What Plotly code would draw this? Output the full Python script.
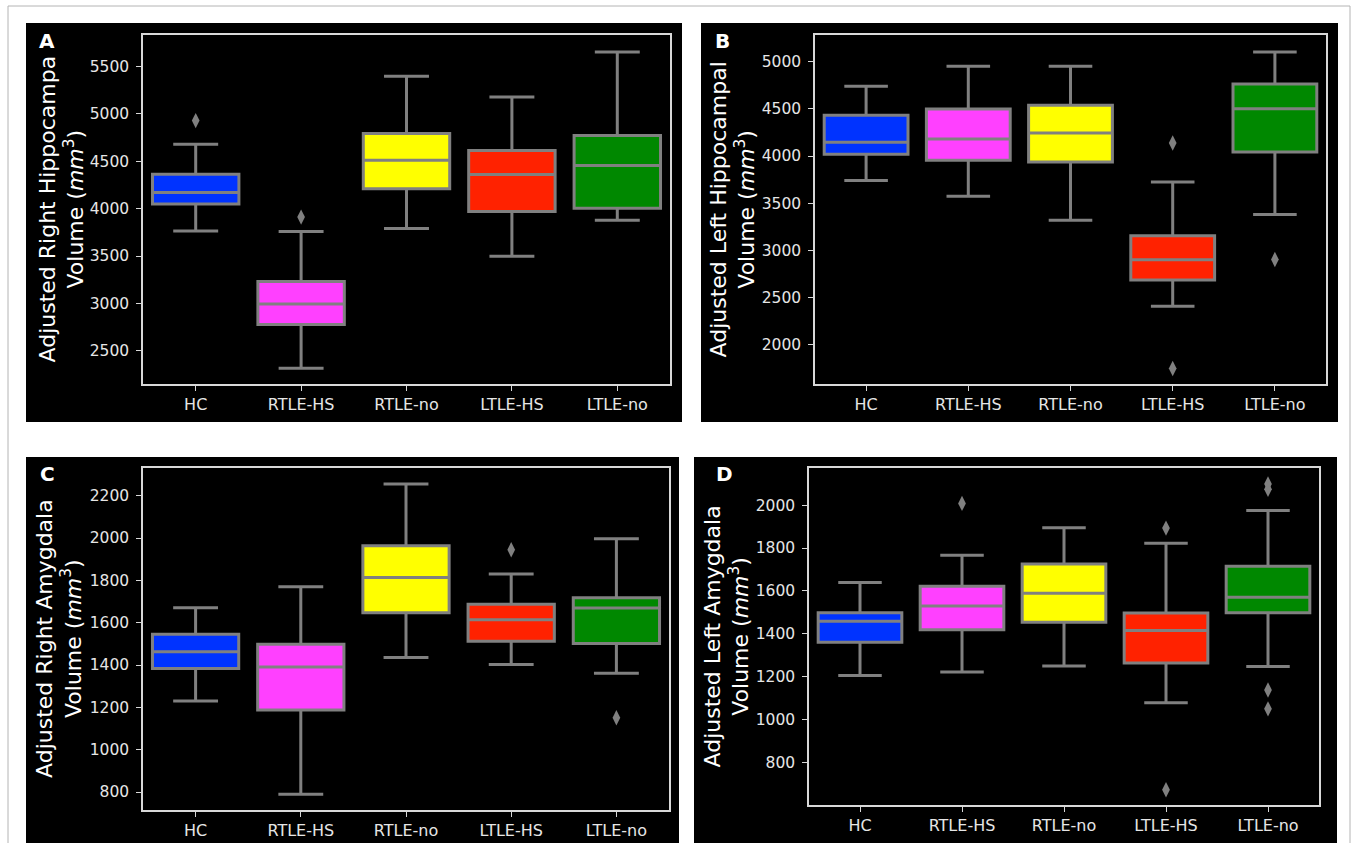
import plotly.graph_objects as go

W, H = 1354, 843

categories = ["HC", "RTLE-HS", "RTLE-no", "LTLE-HS", "LTLE-no"]
box_colors = ["#0033ff", "#ff40ff", "#ffff00", "#ff2200", "#008800"]

# Panel A: Adjusted Right Hippocampal volume
a_lower = [3765, 2314, 3791, 3499, 3879]
a_q1 = [4050, 2778, 4210, 3970, 4006]
a_median = [4170, 2993, 4512, 4361, 4456]
a_q3 = [4365, 3232, 4793, 4614, 4772]
a_upper = [4681, 3760, 5398, 5180, 5655]
a_outliers = {"HC": [4930], "RTLE-HS": [3911]}

# Panel B: Adjusted Left Hippocampal volume
b_lower = [3740, 3574, 3320, 2409, 3380]
b_q1 = [4019, 3955, 3938, 2685, 4044]
b_median = [4146, 4181, 4245, 2900, 4502]
b_q3 = [4432, 4499, 4538, 3154, 4764]
b_upper = [4739, 4951, 4951, 3726, 5102]
b_outliers = {"LTLE-HS": [4139, 1749], "LTLE-no": [2904]}

# Panel C: Adjusted Right Amygdala volume
c_lower = [1230, 789, 1436, 1403, 1361]
c_q1 = [1384, 1187, 1647, 1512, 1502]
c_median = [1463, 1391, 1814, 1614, 1669]
c_q3 = [1546, 1498, 1964, 1687, 1718]
c_upper = [1671, 1770, 2255, 1830, 1997]
c_outliers = {"LTLE-HS": [1945], "LTLE-no": [1151]}

# Panel D: Adjusted Left Amygdala volume
d_lower = [1206, 1223, 1251, 1079, 1248]
d_q1 = [1361, 1420, 1454, 1264, 1499]
d_median = [1459, 1530, 1589, 1416, 1571]
d_q3 = [1499, 1622, 1726, 1498, 1715]
d_upper = [1640, 1766, 1895, 1823, 1975]
d_outliers = {"RTLE-HS": [2008], "LTLE-HS": [1893, 674],
              "LTLE-no": [2099, 2074, 1139, 1051]}

panel_labels = ["A", "B", "C", "D"]
y_titles = [
    "Adjusted Right Hippocampa<br>Volume (<i>mm</i><sup>3</sup>)",
    "Adjusted Left Hippocampal<br>Volume (<i>mm</i><sup>3</sup>)",
    "Adjusted Right Amygdala<br>Volume (<i>mm</i><sup>3</sup>)",
    "Adjusted Left Amygdala<br>Volume (<i>mm</i><sup>3</sup>)",
]
y_ranges = [[2149, 5834], [1584, 5283], [715, 2331], [603, 2173]]
y_ticks = [
    [2500, 3000, 3500, 4000, 4500, 5000, 5500],
    [2000, 2500, 3000, 3500, 4000, 4500, 5000],
    [800, 1000, 1200, 1400, 1600, 1800, 2000, 2200],
    [800, 1000, 1200, 1400, 1600, 1800, 2000],
]

panels = [
    (a_lower, a_q1, a_median, a_q3, a_upper, a_outliers),
    (b_lower, b_q1, b_median, b_q3, b_upper, b_outliers),
    (c_lower, c_q1, c_median, c_q3, c_upper, c_outliers),
    (d_lower, d_q1, d_median, d_q3, d_upper, d_outliers),
]

# pixel geometry (layout only)
frames = [(143, 670, 35, 384), (815, 1326, 35, 384),
          (143, 669, 468, 810), (809, 1319, 468, 805)]
blacks = [(26, 682, 23, 422), (701, 1338, 23, 422),
          (26, 679, 457, 850), (694, 1337, 457, 850)]
label_pos = [(47, 41), (722, 41), (47, 474), (724, 474)]
title_x = [61, 732, 59, 726]

def px(x):
    return x / W

def py(y):
    return 1 - y / H

fig = go.Figure()
GRAY = "#808080"
XTICKFONT = dict(size=16, color="#e6e6e6", family="DejaVu Sans")
YTICKFONT = dict(size=15.5, color="#e6e6e6", family="DejaVu Sans")

for i, (lo, q1, med, q3, up, outl) in enumerate(panels):
    xa = "x" if i == 0 else f"x{i+1}"
    ya = "y" if i == 0 else f"y{i+1}"
    for j, cat in enumerate(categories):
        fig.add_trace(go.Box(
            x=[cat], q1=[q1[j]], median=[med[j]], q3=[q3[j]],
            lowerfence=[lo[j]], upperfence=[up[j]],
            fillcolor=box_colors[j], line=dict(color=GRAY, width=3),
            width=0.82, whiskerwidth=0.52, boxpoints=False,
            showlegend=False, hoverinfo="skip", xaxis=xa, yaxis=ya))
    ox, oy = [], []
    for cat in categories:
        for v in outl.get(cat, []):
            ox.append(cat)
            oy.append(v)
    fig.add_trace(go.Scatter(
        x=ox, y=oy, mode="markers",
        marker=dict(symbol="diamond-tall", size=11, color=GRAY,
                    line=dict(width=0)),
        showlegend=False, hoverinfo="skip", xaxis=xa, yaxis=ya))

layout = dict(
    width=W, height=H, margin=dict(l=0, r=0, t=0, b=0),
    paper_bgcolor="white", plot_bgcolor="black", boxmode="overlay",
    font=dict(family="DejaVu Sans", color="#e6e6e6"),
)
shapes = []
annotations = []
for i in range(4):
    x0, x1, y0, y1 = frames[i]
    sfx = "" if i == 0 else str(i + 1)
    layout["xaxis" + sfx] = dict(
        domain=[px(x0), px(x1)], anchor="y" + sfx, type="category",
        categoryorder="array", categoryarray=categories,
        range=[-0.5, 4.5], showgrid=False, zeroline=False,
        showline=True, mirror=True, linecolor="#d8d8d8", linewidth=1.5,
        ticks="outside", ticklen=5, tickwidth=1.2, tickcolor="#d8d8d8",
        tickfont=XTICKFONT)
    layout["yaxis" + sfx] = dict(
        domain=[py(y1), py(y0)], anchor="x" + sfx,
        range=y_ranges[i], tickvals=y_ticks[i], showgrid=False,
        zeroline=False, showline=True, mirror=True, linecolor="#d8d8d8",
        linewidth=1.5, ticks="outside", ticklen=5, tickwidth=1.2,
        tickcolor="#d8d8d8", tickfont=YTICKFONT, ticklabelstandoff=4)
    bx0, bx1, by0, by1 = blacks[i]
    shapes.append(dict(type="rect", xref="paper", yref="paper",
                       x0=px(bx0), x1=px(bx1), y0=py(by1), y1=py(by0),
                       fillcolor="black", line=dict(width=0), layer="below"))
    lx, ly = label_pos[i]
    annotations.append(dict(text="<b>%s</b>" % panel_labels[i], x=px(lx),
                            y=py(ly), xref="paper", yref="paper",
                            showarrow=False, xanchor="center",
                            yanchor="middle",
                            font=dict(size=20, color="white",
                                      family="DejaVu Sans")))
    annotations.append(dict(text=y_titles[i], x=px(title_x[i]),
                            y=py((y0 + y1) / 2), xref="paper",
                            yref="paper", showarrow=False, textangle=-90,
                            xanchor="center", yanchor="middle",
                            font=dict(size=22, color="white",
                                      family="DejaVu Sans")))

shapes.append(dict(type="rect", xref="paper", yref="paper",
                   x0=px(8), x1=px(1350), y0=-0.02, y1=py(6),
                   line=dict(color="#b4b4b4", width=1), layer="below"))
layout["shapes"] = shapes
layout["annotations"] = annotations
fig.update_layout(**layout)

fig.write_html(
    "out.html",
    config={"displayModeBar": False},
    post_script="document.body.style.margin='0';"
                "document.body.style.overflow='hidden';",
)
